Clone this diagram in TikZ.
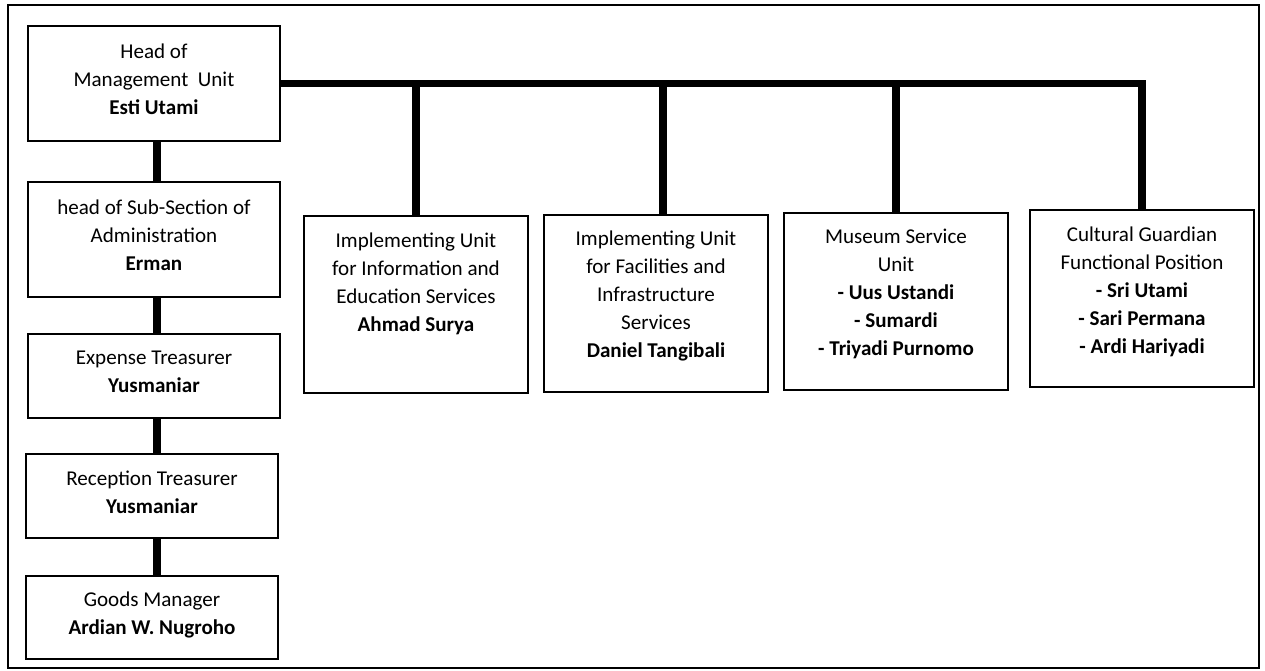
\documentclass[tikz,border=0pt]{standalone}
\usepackage{fontspec}
\setmainfont{Carlito}
\usetikzlibrary{calc}
\newcommand{\toptext}[1]{\parbox[c][107.5pt][t]{164pt}{\centering #1}}

\begin{document}
\begin{tikzpicture}[x=0.75pt,y=-0.75pt,font=\fontsize{15.8}{21}\selectfont,
  box/.style={draw,line width=1.5pt,align=center,inner sep=0pt,minimum width=189pt,
    execute at end node={\rule[-6pt]{0pt}{0pt}}},
  unit/.style={draw,line width=1.5pt,inner sep=0pt,minimum width=168pt,minimum height=132.75pt},
  bar/.style={line width=5.5pt}]

\useasboundingbox (0,0) rectangle (1265,671);
\draw[line width=1.5pt] (8,5) rectangle (1259,668);

\node[box,minimum height=86.25pt] (a1) at (154,83.5) {Head of\\Management\ \ Unit\\\textbf{Esti Utami}};
\node[box,minimum height=86.25pt] (a2) at (154,239.5) {head of Sub-Section of\\Administration\\\textbf{Erman}};
\node[box,minimum height=63pt] (a3) at (154,376) {Expense Treasurer\\\textbf{Yusmaniar}};
\node[box,minimum height=63pt] (a4) at (152,496) {Reception Treasurer\\\textbf{Yusmaniar}};
\node[box,minimum height=62.25pt] (a5) at (152,617.5) {Goods Manager\\\textbf{Ardian W. Nugroho}};

\node[unit] (b1) at (416,304.5) {\toptext{Implementing Unit\\for Information and\\Education Services\\\textbf{Ahmad Surya}}};
\node[unit] (b2) at (656,303) {\toptext{Implementing Unit\\for Facilities and\\Infrastructure\\Services\\\textbf{Daniel Tangibali}}};
\node[unit] (b3) at (896,301) {\toptext{Museum Service\\Unit\\\textbf{- Uus Ustandi}\\\textbf{- Sumardi}\\\textbf{- Triyadi Purnomo}}};
\node[unit] (b4) at (1142,298.5) {\toptext{Cultural Guardian\\Functional Position\\\textbf{- Sri Utami}\\\textbf{- Sari Permana}\\\textbf{- Ardi Hariyadi}}};

\coordinate (c1) at (157,0);
\coordinate (c2) at (663,0);

\foreach \i/\j in {a1/a2,a2/a3,a3/a4,a4/a5}
  \draw[bar] (\i.south -| c1) -- (\j.north -| c1);

\draw[bar] (a1.east) -- (a1.east -| b4.north) -- (b4.north);
\foreach \b in {b1,b3}
  \draw[bar] (a1.east -| \b.north) -- (\b.north);
\draw[bar] (a1.east -| c2) -- (b2.north -| c2);

\end{tikzpicture}
\end{document}
